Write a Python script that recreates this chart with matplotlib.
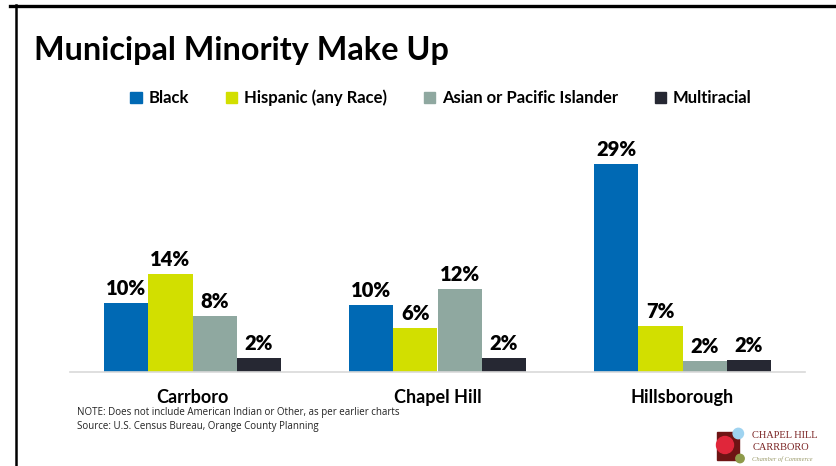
import matplotlib
matplotlib.use("Agg")
import matplotlib.pyplot as plt
import numpy as np
from matplotlib.patches import Rectangle, Circle
from matplotlib.lines import Line2D

W, H = 836, 466
DPI = 100

categories = ["Carrboro", "Chapel Hill", "Hillsborough"]
series_names = ["Black", "Hispanic (any Race)", "Asian or Pacific Islander", "Multiracial"]
black = [9.7, 9.4, 29.0]
hispanic = [13.7, 6.2, 6.5]
asian = [7.9, 11.6, 1.6]
multiracial = [2.0, 2.0, 1.7]
labels_black = ["10%", "10%", "29%"]
labels_hispanic = ["14%", "6%", "7%"]
labels_asian = ["8%", "12%", "2%"]
labels_multi = ["2%", "2%", "2%"]
colors = ["#0069B4", "#D2DF00", "#8FA8A0", "#262833"]

series = [black, hispanic, asian, multiracial]
series_labels = [labels_black, labels_hispanic, labels_asian, labels_multi]

fig = plt.figure(figsize=(W / DPI, H / DPI), dpi=DPI)
fig.patch.set_facecolor("white")

def fx(px):
    return px / W

def fy(py):
    return 1 - py / H

# slide frame
fig.add_artist(Line2D([fx(10), 1.0], [fy(6), fy(6)], color="black", lw=2.4, transform=fig.transFigure))
fig.add_artist(Line2D([fx(16), fx(16)], [fy(5), 0.0], color="black", lw=1.8, transform=fig.transFigure))

# title
fig.text(fx(34), fy(60), "Municipal Minority Make Up", fontsize=23.3, fontweight="bold",
         family="Lato", color="black", ha="left", va="baseline")

# axes
ax_left, ax_right = 70, 805
base_y = 372.3
px_per_unit = 7.18
ymax = 32
ax_top = base_y - ymax * px_per_unit
ax = fig.add_axes([fx(ax_left), fy(base_y), (ax_right - ax_left) / W, (base_y - ax_top) / H])
ax.set_xlim(-0.5, 2.5)
ax.set_ylim(0, ymax)

x = np.arange(len(categories))
bw = 0.18
offsets = (np.arange(4) - 1.5) * bw
for i, (vals, labs) in enumerate(zip(series, series_labels)):
    ax.bar(x + offsets[i], vals, width=bw, color=colors[i], edgecolor="none",
           label=series_names[i], zorder=2)
    for xi, v, lab in zip(x + offsets[i], vals, labs):
        ax.text(xi, v + 0.7, lab, ha="center", va="bottom", fontsize=14.5,
                fontweight="heavy", family="Lato", color="black")

for s in ["top", "right", "left"]:
    ax.spines[s].set_visible(False)
ax.spines["bottom"].set_color("#D9D9D9")
ax.spines["bottom"].set_linewidth(1.2)
ax.set_yticks([])
ax.set_xticks(x)
ax.set_xticklabels(categories, fontsize=13, fontweight="bold", family="Lato")
ax.tick_params(axis="x", length=0, pad=12)

# legend
handles = [Rectangle((0, 0), 1, 1, color=c) for c in colors]
fig.legend(handles, series_names, loc="center", bbox_to_anchor=(fx(441), fy(98)),
           ncol=4, frameon=False, prop={"family": "Lato", "weight": "bold", "size": 12},
           handlelength=0.7, handleheight=0.7, handletextpad=0.4, columnspacing=2.2)

# notes
fig.text(fx(77), fy(413), "NOTE: Does not include American Indian or Other, as per earlier charts",
         fontsize=7.0, family="Open Sans", color="#222222", ha="left", va="center")
fig.text(fx(77), fy(427), "Source: U.S. Census Bureau, Orange County Planning",
         fontsize=7.0, family="Open Sans", color="#222222", ha="left", va="center")

# logo
lx0, lx1, ly0, ly1 = 708, 836, 420, 466
lax = fig.add_axes([fx(lx0), fy(ly1), (lx1 - lx0) / W, (ly1 - ly0) / H])
lax.set_xlim(lx0, lx1)
lax.set_ylim(ly1, ly0)
lax.axis("off")
lax.add_patch(Rectangle((716.7, 431.7), 22.3, 28.3, color="#6E1414", zorder=1))
lax.add_patch(Circle((738.3, 433.5), 5.2, color="#9FD3F0", zorder=2))
lax.add_patch(Circle((725, 445), 8.5, color="#E0263A", zorder=3))
lax.add_patch(Circle((740, 458.5), 4.2, color="#8E9A4A", zorder=3))
lax.text(752.5, 435, "CHAPEL HILL", fontsize=7.5, family="Liberation Serif", color="#7A2323",
         ha="left", va="center")
lax.text(752.5, 447, "CARRBORO", fontsize=7.5, family="Liberation Serif", color="#7A2323",
         ha="left", va="center")
lax.text(752.5, 459, "Chamber of Commerce", fontsize=4.7, family="Liberation Serif",
         style="italic", color="#9A9A6A", ha="left", va="center")

fig.savefig("out.png", dpi=DPI)
